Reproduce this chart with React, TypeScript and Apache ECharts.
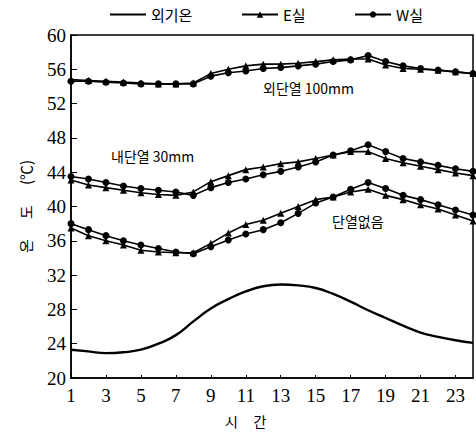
import React, { useEffect, useRef } from "react";
import * as echarts from "echarts";

const hours = ["1","2","3","4","5","6","7","8","9","10","11","12","13","14","15","16","17","18","19","20","21","22","23","24"];

const outdoor = [23.3, 23.1, 22.9, 23.0, 23.3, 24.0, 25.0, 26.6, 28.1, 29.2, 30.1, 30.7, 30.9, 30.8, 30.5, 29.8, 28.9, 27.9, 27.0, 26.1, 25.3, 24.8, 24.4, 24.1];

const outerE = [54.8, 54.7, 54.6, 54.5, 54.4, 54.3, 54.3, 54.4, 55.5, 56.0, 56.4, 56.6, 56.6, 56.7, 56.9, 57.1, 57.2, 57.2, 56.5, 56.1, 56.0, 55.9, 55.7, 55.5];
const outerW = [54.6, 54.6, 54.5, 54.4, 54.3, 54.3, 54.3, 54.3, 55.2, 55.6, 55.8, 56.1, 56.2, 56.4, 56.6, 56.9, 57.1, 57.6, 56.9, 56.4, 56.1, 55.9, 55.7, 55.5];

const innerE = [43.1, 42.5, 42.2, 41.9, 41.6, 41.4, 41.3, 41.7, 42.9, 43.6, 44.3, 44.6, 45.0, 45.2, 45.6, 46.0, 46.4, 46.4, 45.6, 45.1, 44.7, 44.3, 43.9, 43.6];
const innerW = [43.5, 43.2, 42.8, 42.4, 42.1, 41.9, 41.7, 41.3, 42.2, 42.8, 43.2, 43.7, 44.1, 44.6, 45.2, 46.0, 46.5, 47.2, 46.4, 45.6, 45.2, 44.8, 44.4, 44.1];

const noneE = [37.5, 36.6, 36.0, 35.5, 34.9, 34.7, 34.6, 34.6, 35.7, 36.9, 37.9, 38.4, 39.2, 40.0, 40.8, 41.1, 41.7, 42.0, 41.3, 40.8, 40.2, 39.7, 39.0, 38.3];
const noneW = [38.0, 37.3, 36.6, 36.0, 35.5, 35.1, 34.7, 34.5, 35.3, 36.1, 36.8, 37.3, 38.1, 39.2, 40.4, 41.1, 42.0, 42.8, 42.1, 41.3, 40.8, 40.2, 39.6, 39.0];

const yTicks = { min: 20, max: 60, interval: 4 };

const labelOuter = "외단열 100mm";
const labelInner = "내단열 30mm";
const labelNone = "단열없음";

const KR = "'Noto Sans CJK KR', 'Noto Sans', sans-serif";
const SERIF = "'Liberation Serif', 'DejaVu Serif', serif";

export default function App() {
  const ref = useRef<HTMLDivElement>(null);
  useEffect(() => {
    if (!ref.current) return;
    const chart = echarts.init(ref.current, undefined, { renderer: "svg" });
    const eSeries = (data: number[]) => ({
      name: "E실",
      type: "line",
      data,
      symbol: "triangle",
      symbolSize: 7,
      lineStyle: { color: "#000", width: 1.6 },
      itemStyle: { color: "#000" },
    });
    const wSeries = (data: number[]) => ({
      name: "W실",
      type: "line",
      data,
      symbol: "circle",
      symbolSize: 7,
      lineStyle: { color: "#000", width: 1.6 },
      itemStyle: { color: "#000" },
    });
    const legendBase = {
      top: 2,
      itemWidth: 36,
      itemHeight: 8,
      textStyle: { fontFamily: KR, fontSize: 15, color: "#000" },
    };
    chart.setOption({
      animation: false,
      backgroundColor: "#fff",
      grid: {
        left: 71,
        right: 3,
        top: 35,
        bottom: 56,
        show: true,
        borderColor: "#000",
        borderWidth: 1.5,
      },
      legend: [
        {
          ...legendBase,
          left: 105,
          data: [{ name: "외기온", icon: "path://M0,0 L40,0 L40,2.2 L0,2.2 Z" }],
        },
        { ...legendBase, left: 236, data: ["E실"] },
        { ...legendBase, left: 349, data: ["W실"] },
      ],
      xAxis: {
        type: "category",
        data: hours,
        boundaryGap: false,
        axisLine: { lineStyle: { color: "#000", width: 1.5 } },
        axisTick: { inside: true, length: 3, interval: 1, lineStyle: { color: "#000" } },
        axisLabel: {
          interval: 1,
          color: "#000",
          fontFamily: SERIF,
          fontSize: 19,
          margin: 8,
        },
        splitLine: { show: false },
      },
      yAxis: {
        type: "value",
        min: yTicks.min,
        max: yTicks.max,
        interval: yTicks.interval,
        name: "온      도      (℃)",
        nameLocation: "middle",
        nameRotate: 90,
        nameGap: 38,
        nameTextStyle: { fontFamily: KR, fontSize: 15, color: "#000" },
        axisLine: { show: true, lineStyle: { color: "#000", width: 1.5 } },
        axisTick: { show: true, inside: true, length: 6, lineStyle: { color: "#000" } },
        axisLabel: { color: "#000", fontFamily: SERIF, fontSize: 19, margin: 5 },
        splitLine: { show: false },
      },
      series: [
        {
          name: "외기온",
          type: "line",
          data: outdoor,
          smooth: 0.5,
          symbol: "none",
          lineStyle: { color: "#000", width: 2.4 },
          itemStyle: { color: "#000" },
        },
        eSeries(outerE),
        wSeries(outerW),
        eSeries(innerE),
        wSeries(innerW),
        eSeries(noneE),
        wSeries(noneW),
      ],
      graphic: [
        { type: "text", left: 263, top: 81, style: { text: labelOuter, fontFamily: KR, fontSize: 14, fill: "#000" } },
        { type: "text", left: 111, top: 149, style: { text: labelInner, fontFamily: KR, fontSize: 14, fill: "#000" } },
        { type: "text", left: 332, top: 214, style: { text: labelNone, fontFamily: KR, fontSize: 14, fill: "#000" } },
        { type: "text", left: 225, top: 414, style: { text: "시     간", fontFamily: KR, fontSize: 14, fill: "#000" } },
      ],
    });
    return () => chart.dispose();
  }, []);
  return <div ref={ref} style={{ position: "fixed", left: 0, top: 0, width: 476, height: 434 }} />;
}
